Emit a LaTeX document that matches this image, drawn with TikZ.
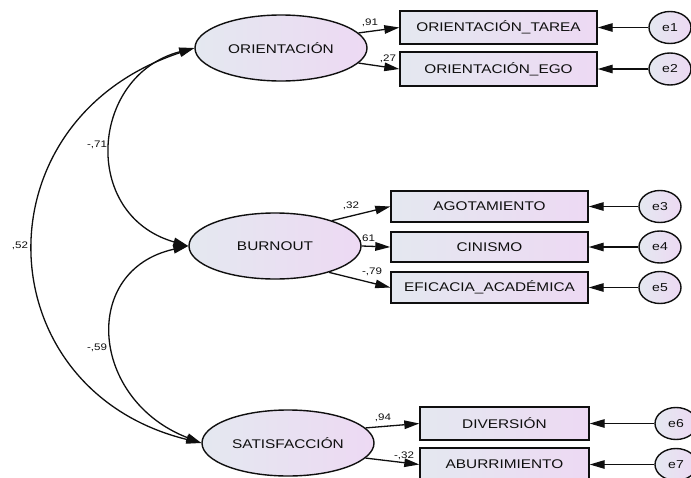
\documentclass[tikz,border=0pt]{standalone}
\usepackage{fontspec}
\setmainfont{Liberation Sans}
\newfontfamily\amosfont[FakeStretch=1.22]{Liberation Sans}
\usetikzlibrary{shapes.geometric,arrows.meta}
\definecolor{fillL}{RGB}{228,232,240}
\definecolor{fillR}{RGB}{237,217,243}
\definecolor{ink}{RGB}{15,15,15}
\tikzset{
  latent/.style={ellipse, draw=ink, line width=1.4pt, left color=fillL, right color=fillR,
    minimum width=172pt, minimum height=66pt, inner sep=0pt, text=ink,
    font=\amosfont\fontsize{12.6pt}{15pt}\selectfont},
  obsv/.style={rectangle, draw=ink, line width=1.4pt, left color=fillL, right color=fillR,
    minimum width=197pt, minimum height=32pt, inner sep=0pt, text=ink,
    font=\amosfont\fontsize{12.6pt}{15pt}\selectfont},
  errv/.style={ellipse, draw=ink, line width=1.4pt, left color=fillL, right color=fillR,
    minimum width=42pt, minimum height=32pt, inner sep=0pt, text=ink,
    font=\amosfont\fontsize{11.5pt}{14pt}\selectfont},
  reg/.style={draw=ink, line width=1.3pt, -{Triangle[length=15pt,width=8.5pt]}},
  cov/.style={draw=ink, line width=1.3pt, {Triangle[length=15pt,width=8.5pt]}-{Triangle[length=15pt,width=8.5pt]}},
  coef/.style={text=ink, inner sep=0pt, font=\amosfont\fontsize{9.5pt}{11pt}\selectfont}
}
\begin{document}
\begin{tikzpicture}[x=1pt,y=-1pt]
\useasboundingbox (0,0) rectangle (691,477);
\fill[white] (0,0) rectangle (691,477);
\clip (0,0) rectangle (691,477);

% latent variables
\node[latent] (orient) at (281,48) {ORIENTACIÓN};
\node[latent] (burn) at (275,246) {BURNOUT};
\node[latent] (satis) at (288,443) {SATISFACCIÓN};

% observed variables
\node[obsv, minimum height=33pt] (tarea) at (498.5,27.5) {ORIENTACIÓN\_TAREA};
\node[obsv, minimum height=34pt] (ego) at (498.5,69) {ORIENTACIÓN\_EGO};
\node[obsv, minimum height=31pt] (agot) at (489.5,206.5) {AGOTAMIENTO};
\node[obsv, minimum height=30pt] (cin) at (489.5,247) {CINISMO};
\node[obsv, minimum height=31pt] (efi) at (489.5,287.5) {EFICACIA\_ACADÉMICA};
\node[obsv, minimum width=169pt, minimum height=33pt] (div) at (504.5,423.5) {DIVERSIÓN};
\node[obsv, minimum width=169pt, minimum height=33pt] (abu) at (504.5,464.5) {ABURRIMIENTO};

% error terms
\node[errv] (e1) at (670,27.5) {e1};
\node[errv] (e2) at (670,69) {e2};
\node[errv] (e3) at (660,206.5) {e3};
\node[errv] (e4) at (660,247) {e4};
\node[errv] (e5) at (660,287.5) {e5};
\node[errv] (e6) at (676,423.5) {e6};
\node[errv] (e7) at (676,464.5) {e7};

% loadings
\draw[reg] (orient.11) -- (tarea.west);
\draw[reg] (orient.-11) -- (ego.west);
\draw[reg] (burn.24) -- (agot.west);
\draw[reg] (burn.0) -- (cin.west);
\draw[reg] (burn.-26) -- (efi.west);
\draw[reg] (satis.11) -- (div.west);
\draw[reg] (satis.-11) -- (abu.west);

% errors
\draw[reg] (e1.west) -- (tarea.east);
\draw[reg] (e2.west) -- (ego.east);
\draw[reg] (e3.west) -- (agot.east);
\draw[reg] (e4.west) -- (cin.east);
\draw[reg] (e5.west) -- (efi.east);
\draw[reg] (e6.west) -- (div.east);
\draw[reg] (e7.west) -- (abu.east);

% covariances
\draw[cov] (orient.west) .. controls (90,75) and (80,215) .. (burn.west);
\draw[cov] (orient.west) .. controls (-25,120) and (-15,390) .. (satis.west);
\draw[cov] (burn.west) .. controls (80,270) and (90,400) .. (satis.west);

% coefficients
\node[coef] (k71) at (97,145) {-,71};
\node[coef] (k52) at (20,246) {,52};
\node[coef] (k59) at (97,348) {-,59};
\node[coef] (k91) at (370,23) {,91};
\node[coef] (k27) at (388,59) {,27};
\node[coef] (k32) at (351,206) {,32};
\node[coef] (k61) at (367,239) {,61};
\node[coef] (k79) at (372,272) {-,79};
\node[coef] (k94) at (383,418) {,94};
\node[coef] (k32b) at (404,456) {-,32};
\end{tikzpicture}
\end{document}
